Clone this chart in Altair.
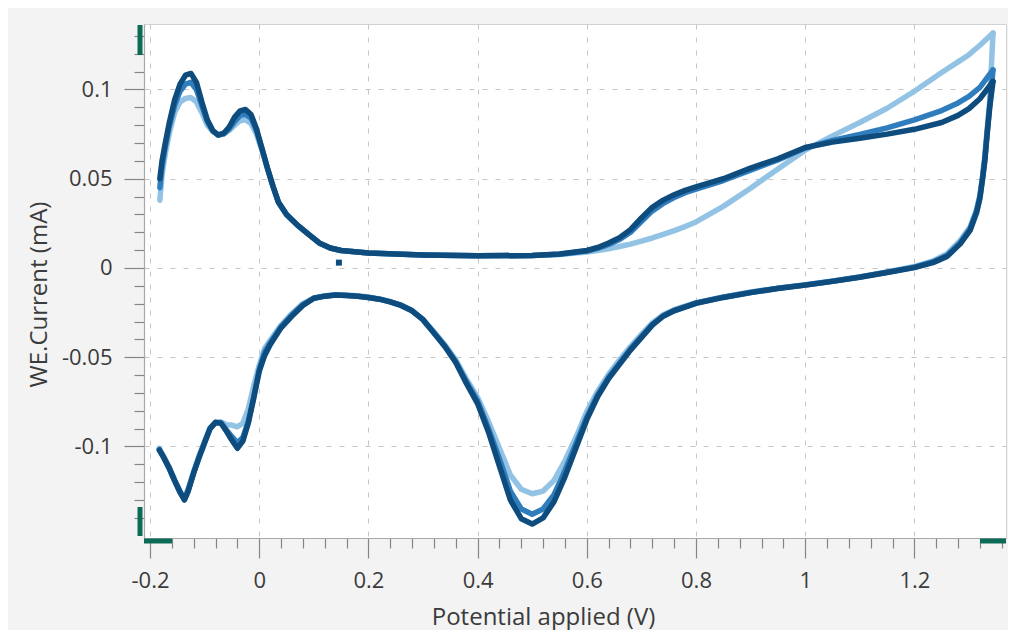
import altair as alt
import pandas as pd

# ---------------- data ----------------
# anodic (forward) sweep potentials, V
E_FWD = [-0.182, -0.178, -0.172, -0.165, -0.155, -0.145, -0.135, -0.125, -0.115, -0.105,
         -0.095, -0.085, -0.075, -0.065, -0.055, -0.045, -0.035, -0.025, -0.015, -0.005,
         0.005, 0.015, 0.025, 0.035, 0.05, 0.07, 0.09, 0.11, 0.13, 0.15,
         0.2, 0.3, 0.4, 0.5, 0.55, 0.6, 0.62, 0.64, 0.66, 0.68,
         0.70, 0.72, 0.74, 0.76, 0.78, 0.8, 0.85, 0.9, 0.95, 1.0,
         1.05, 1.1, 1.15, 1.2, 1.25, 1.28, 1.3, 1.32, 1.344]

I_FWD_1 = [0.038, 0.052, 0.064, 0.075, 0.087, 0.093, 0.095, 0.0955, 0.093, 0.087,
           0.080, 0.0765, 0.0745, 0.075, 0.077, 0.080, 0.0825, 0.083, 0.081, 0.075,
           0.066, 0.056, 0.046, 0.037, 0.030, 0.024, 0.019, 0.0140, 0.0112, 0.0098,
           0.0084, 0.0073, 0.0068, 0.0070, 0.0076, 0.0090, 0.0098, 0.0108, 0.0120, 0.0134,
           0.0150, 0.0168, 0.0188, 0.0209, 0.0232, 0.0258, 0.0345, 0.0447, 0.0555, 0.0660,
           0.0740, 0.0815, 0.0895, 0.0990, 0.1095, 0.1155, 0.1195, 0.1248, 0.1316]

I_FWD_2 = [0.045, 0.057, 0.068, 0.079, 0.091, 0.099, 0.103, 0.104, 0.100, 0.091,
           0.082, 0.0768, 0.0745, 0.0752, 0.078, 0.082, 0.0855, 0.086, 0.084, 0.077,
           0.067, 0.056, 0.046, 0.037, 0.030, 0.024, 0.019, 0.0140, 0.0112, 0.0098,
           0.0084, 0.0073, 0.0068, 0.0070, 0.0077, 0.0095, 0.0110, 0.0132, 0.0160, 0.0200,
           0.0260, 0.0320, 0.0362, 0.0395, 0.0422, 0.0442, 0.0490, 0.0548, 0.0605, 0.0672,
           0.0715, 0.0748, 0.0785, 0.0830, 0.0882, 0.0925, 0.0962, 0.1012, 0.1110]

I_FWD_3 = [0.050, 0.060, 0.070, 0.081, 0.094, 0.103, 0.108, 0.109, 0.104, 0.093,
           0.083, 0.077, 0.0745, 0.0755, 0.079, 0.0845, 0.088, 0.0888, 0.086, 0.078,
           0.067, 0.056, 0.046, 0.037, 0.030, 0.024, 0.019, 0.0140, 0.0112, 0.0098,
           0.0084, 0.0073, 0.0068, 0.0070, 0.0078, 0.0098, 0.0115, 0.0140, 0.0170, 0.0215,
           0.0280, 0.0340, 0.0380, 0.0410, 0.0435, 0.0455, 0.0500, 0.0560, 0.0612, 0.0675,
           0.0705, 0.0727, 0.0750, 0.0777, 0.0815, 0.0855, 0.0893, 0.0948, 0.1045]

# cathodic (reverse) sweep potentials, V
E_REV = [1.344, 1.338, 1.333, 1.329, 1.325, 1.320, 1.314, 1.302, 1.284, 1.26,
         1.234, 1.2, 1.15, 1.1, 1.05, 1.0, 0.95, 0.9, 0.85, 0.8,
         0.76, 0.74, 0.72, 0.70, 0.68, 0.66, 0.64, 0.62, 0.60, 0.58,
         0.56, 0.54, 0.52, 0.50, 0.48, 0.46, 0.44, 0.42, 0.40, 0.38,
         0.36, 0.34, 0.32, 0.30, 0.28, 0.26, 0.24, 0.22, 0.20, 0.18,
         0.16, 0.14, 0.12, 0.10, 0.08, 0.06, 0.04, 0.02, 0.01, 0.0,
         -0.01, -0.02, -0.03, -0.04, -0.05, -0.06, -0.07, -0.08, -0.09, -0.10,
         -0.11, -0.12, -0.13, -0.137, -0.145, -0.155, -0.165, -0.175, -0.183]

I_REV_1 = [0.1316, 0.094, 0.077, 0.063, 0.052, 0.041, 0.033, 0.023, 0.0155, 0.0080,
           0.0040, 0.0008, -0.0022, -0.0050, -0.0073, -0.0094, -0.0113, -0.0135, -0.0162, -0.0194,
           -0.0234, -0.0262, -0.0308, -0.0372, -0.0440, -0.0515, -0.0595, -0.0690, -0.0805, -0.0950,
           -0.1080, -0.1190, -0.1250, -0.1265, -0.1240, -0.1160, -0.1010, -0.0860, -0.0725, -0.0625,
           -0.0515, -0.0430, -0.0358, -0.0288, -0.0238, -0.0208, -0.0188, -0.0173, -0.0163, -0.0156,
           -0.0152, -0.0150, -0.0156, -0.0168, -0.0200, -0.0255, -0.0320, -0.0405, -0.0450, -0.0545,
           -0.0660, -0.0790, -0.0870, -0.0890, -0.0880, -0.0878, -0.0862, -0.0865, -0.0895, -0.0970,
           -0.1050, -0.1140, -0.1235, -0.1285, -0.1250, -0.1185, -0.1115, -0.1055, -0.1010]

I_REV_2 = [0.1110, 0.091, 0.075, 0.061, 0.051, 0.040, 0.032, 0.022, 0.0142, 0.0070,
           0.0034, 0.0004, -0.0024, -0.0051, -0.0074, -0.0095, -0.0114, -0.0137, -0.0164, -0.0197,
           -0.0238, -0.0268, -0.0316, -0.0384, -0.0453, -0.0532, -0.0612, -0.0710, -0.0835, -0.0985,
           -0.1135, -0.1270, -0.1350, -0.1380, -0.1350, -0.1250, -0.1070, -0.0900, -0.0745, -0.0640,
           -0.0525, -0.0437, -0.0362, -0.0290, -0.0240, -0.0210, -0.0190, -0.0175, -0.0165, -0.0158,
           -0.0154, -0.0152, -0.0158, -0.0170, -0.0205, -0.0262, -0.0330, -0.0420, -0.0470, -0.0570,
           -0.0720, -0.0860, -0.0950, -0.0980, -0.0945, -0.0908, -0.0868, -0.0866, -0.0900, -0.0978,
           -0.1060, -0.1145, -0.1245, -0.1298, -0.1258, -0.1193, -0.1123, -0.1063, -0.1018]

I_REV_3 = [0.1045, 0.090, 0.074, 0.060, 0.050, 0.039, 0.031, 0.021, 0.0135, 0.0065,
           0.0030, 0.0002, -0.0025, -0.0052, -0.0075, -0.0096, -0.0115, -0.0138, -0.0165, -0.0198,
           -0.0240, -0.0270, -0.0320, -0.0390, -0.0460, -0.0540, -0.0620, -0.0720, -0.0850, -0.1010,
           -0.1170, -0.1310, -0.1400, -0.1435, -0.1405, -0.1300, -0.1110, -0.0920, -0.0760, -0.0650,
           -0.0530, -0.0440, -0.0365, -0.0290, -0.0240, -0.0210, -0.0190, -0.0175, -0.0165, -0.0158,
           -0.0154, -0.0152, -0.0158, -0.0170, -0.0210, -0.0270, -0.0335, -0.0430, -0.0490, -0.0580,
           -0.0730, -0.0870, -0.0970, -0.1010, -0.0965, -0.0915, -0.0870, -0.0865, -0.0900, -0.0980,
           -0.1060, -0.1150, -0.1250, -0.1300, -0.1255, -0.1190, -0.1120, -0.1060, -0.1020]

# first recorded point of the scan
START_E = [0.146]
START_I = [0.003]

CYCLES = ["Cycle 1", "Cycle 2", "Cycle 3"]
COLORS = ["#93c3e4", "#2f7dbd", "#0e4c7e"]

X_TICKS = [-0.2, -0.16, -0.12, -0.08, -0.04, 0, 0.04, 0.08, 0.12, 0.16,
           0.2, 0.24, 0.28, 0.32, 0.36, 0.4, 0.44, 0.48, 0.52, 0.56,
           0.6, 0.64, 0.68, 0.72, 0.76, 0.8, 0.84, 0.88, 0.92, 0.96,
           1, 1.04, 1.08, 1.12, 1.16, 1.2, 1.24, 1.28, 1.32, 1.36]
Y_TICKS = [-0.14, -0.13, -0.12, -0.11, -0.1, -0.09, -0.08, -0.07, -0.06, -0.05,
           -0.04, -0.03, -0.02, -0.01, 0, 0.01, 0.02, 0.03, 0.04, 0.05,
           0.06, 0.07, 0.08, 0.09, 0.1, 0.11, 0.12, 0.13]

X_DOMAIN = [-0.211, 1.3678]
Y_DOMAIN = [-0.1513, 0.1367]

# ---------------- build tables ----------------
def cycle_frame(i_fwd, i_rev, name):
    rows = []
    for k, (e, i) in enumerate(zip(E_FWD, i_fwd)):
        rows.append({"E": e, "I": i, "branch": "fwd", "idx": k, "cycle": name})
    for k, (e, i) in enumerate(zip(E_REV, i_rev)):
        rows.append({"E": e, "I": i, "branch": "rev", "idx": k, "cycle": name})
    return pd.DataFrame(rows)

frames = [cycle_frame(I_FWD_1, I_REV_1, CYCLES[0]),
          cycle_frame(I_FWD_2, I_REV_2, CYCLES[1]),
          cycle_frame(I_FWD_3, I_REV_3, CYCLES[2])]

FONT = "Open Sans"
TXT = "#3b3b3b"
MAJ_X = "abs(datum.value / 0.2 - round(datum.value / 0.2)) < 0.001"
MAJ_Y = "abs(datum.value / 0.05 - round(datum.value / 0.05)) < 0.001"

x_axis = alt.Axis(
    values=X_TICKS,
    labelExpr=f"{MAJ_X} ? '' + datum.value : ''",
    labelOverlap=False, labelFlush=False,
    labelFont=FONT, labelFontSize=22, labelColor=TXT, labelPadding=12,
    tickSize={"condition": {"test": MAJ_X, "value": 20}, "value": 10},
    tickColor="#858585", tickWidth=1.2,
    domainColor="#a8a8a8", domainWidth=1.2,
    grid=True, gridColor="#c6c6c6", gridDash=[5, 8], gridWidth=1,
    gridOpacity={"condition": {"test": MAJ_X, "value": 1}, "value": 0},
    title="Potential applied (V)", titleFont=FONT, titleFontSize=24,
    titleFontWeight="normal", titleColor=TXT,
    titleX=399, titleY=86, titleBaseline="alphabetic", titleAlign="center",
)
y_axis = alt.Axis(
    values=Y_TICKS,
    labelExpr=f"{MAJ_Y} ? '' + datum.value : ''",
    labelOverlap=False, labelFlush=False,
    labelFont=FONT, labelFontSize=22, labelColor=TXT, labelPadding=12,
    tickSize={"condition": {"test": MAJ_Y, "value": 20}, "value": 10},
    tickColor="#858585", tickWidth=1.2,
    domainColor="#a8a8a8", domainWidth=1.2,
    grid=True, gridColor="#c6c6c6", gridDash=[5, 8], gridWidth=1,
    gridOpacity={"condition": {"test": MAJ_Y, "value": 1}, "value": 0},
    title="WE.Current (mA)", titleFont=FONT, titleFontSize=24,
    titleFontWeight="normal", titleColor=TXT,
    titleX=-98, titleY=270, titleAngle=270, titleBaseline="alphabetic", titleAlign="center",
)

x_enc = alt.X("E:Q", scale=alt.Scale(domain=X_DOMAIN, nice=False, zero=False), axis=x_axis)
y_enc = alt.Y("I:Q", scale=alt.Scale(domain=Y_DOMAIN, nice=False, zero=False), axis=y_axis)

layers = []
for df, col in zip(frames, COLORS):
    layers.append(
        alt.Chart(df).mark_line(color=col, strokeWidth=5.5, strokeCap="round", strokeJoin="round")
        .encode(x=x_enc, y=y_enc, detail="branch:N", order="idx:Q")
    )

start_df = pd.DataFrame({"E": START_E, "I": START_I})
layers.append(
    alt.Chart(start_df).mark_square(size=36, color=COLORS[2], opacity=1)
    .encode(x=x_enc, y=y_enc)
)

# green range handles of the instrument software
GREEN = "#0b6b57"
one = pd.DataFrame({"a": [0]})
handles = [
    dict(x=alt.value(-4), y=alt.value(1), y2=alt.value(31)),
    dict(x=alt.value(-4), y=alt.value(483), y2=alt.value(512)),
    dict(x=alt.value(0), x2=alt.value(28), y=alt.value(517)),
    dict(x=alt.value(836), x2=alt.value(862), y=alt.value(517)),
]
for h in handles:
    layers.append(alt.Chart(one).mark_rule(color=GREEN, strokeWidth=5).encode(**h))

chart = alt.layer(*layers).properties(
    width=862, height=514,
    autosize=alt.AutoSizeParams(type="none"),
    padding={"left": 136, "top": 16, "right": 2, "bottom": 92},
    background="#f3f3f3",
).configure_view(stroke="#d2d2d2", strokeWidth=1, fill="white")

chart.save("out.html", embed_options={"renderer": "svg", "actions": False})
